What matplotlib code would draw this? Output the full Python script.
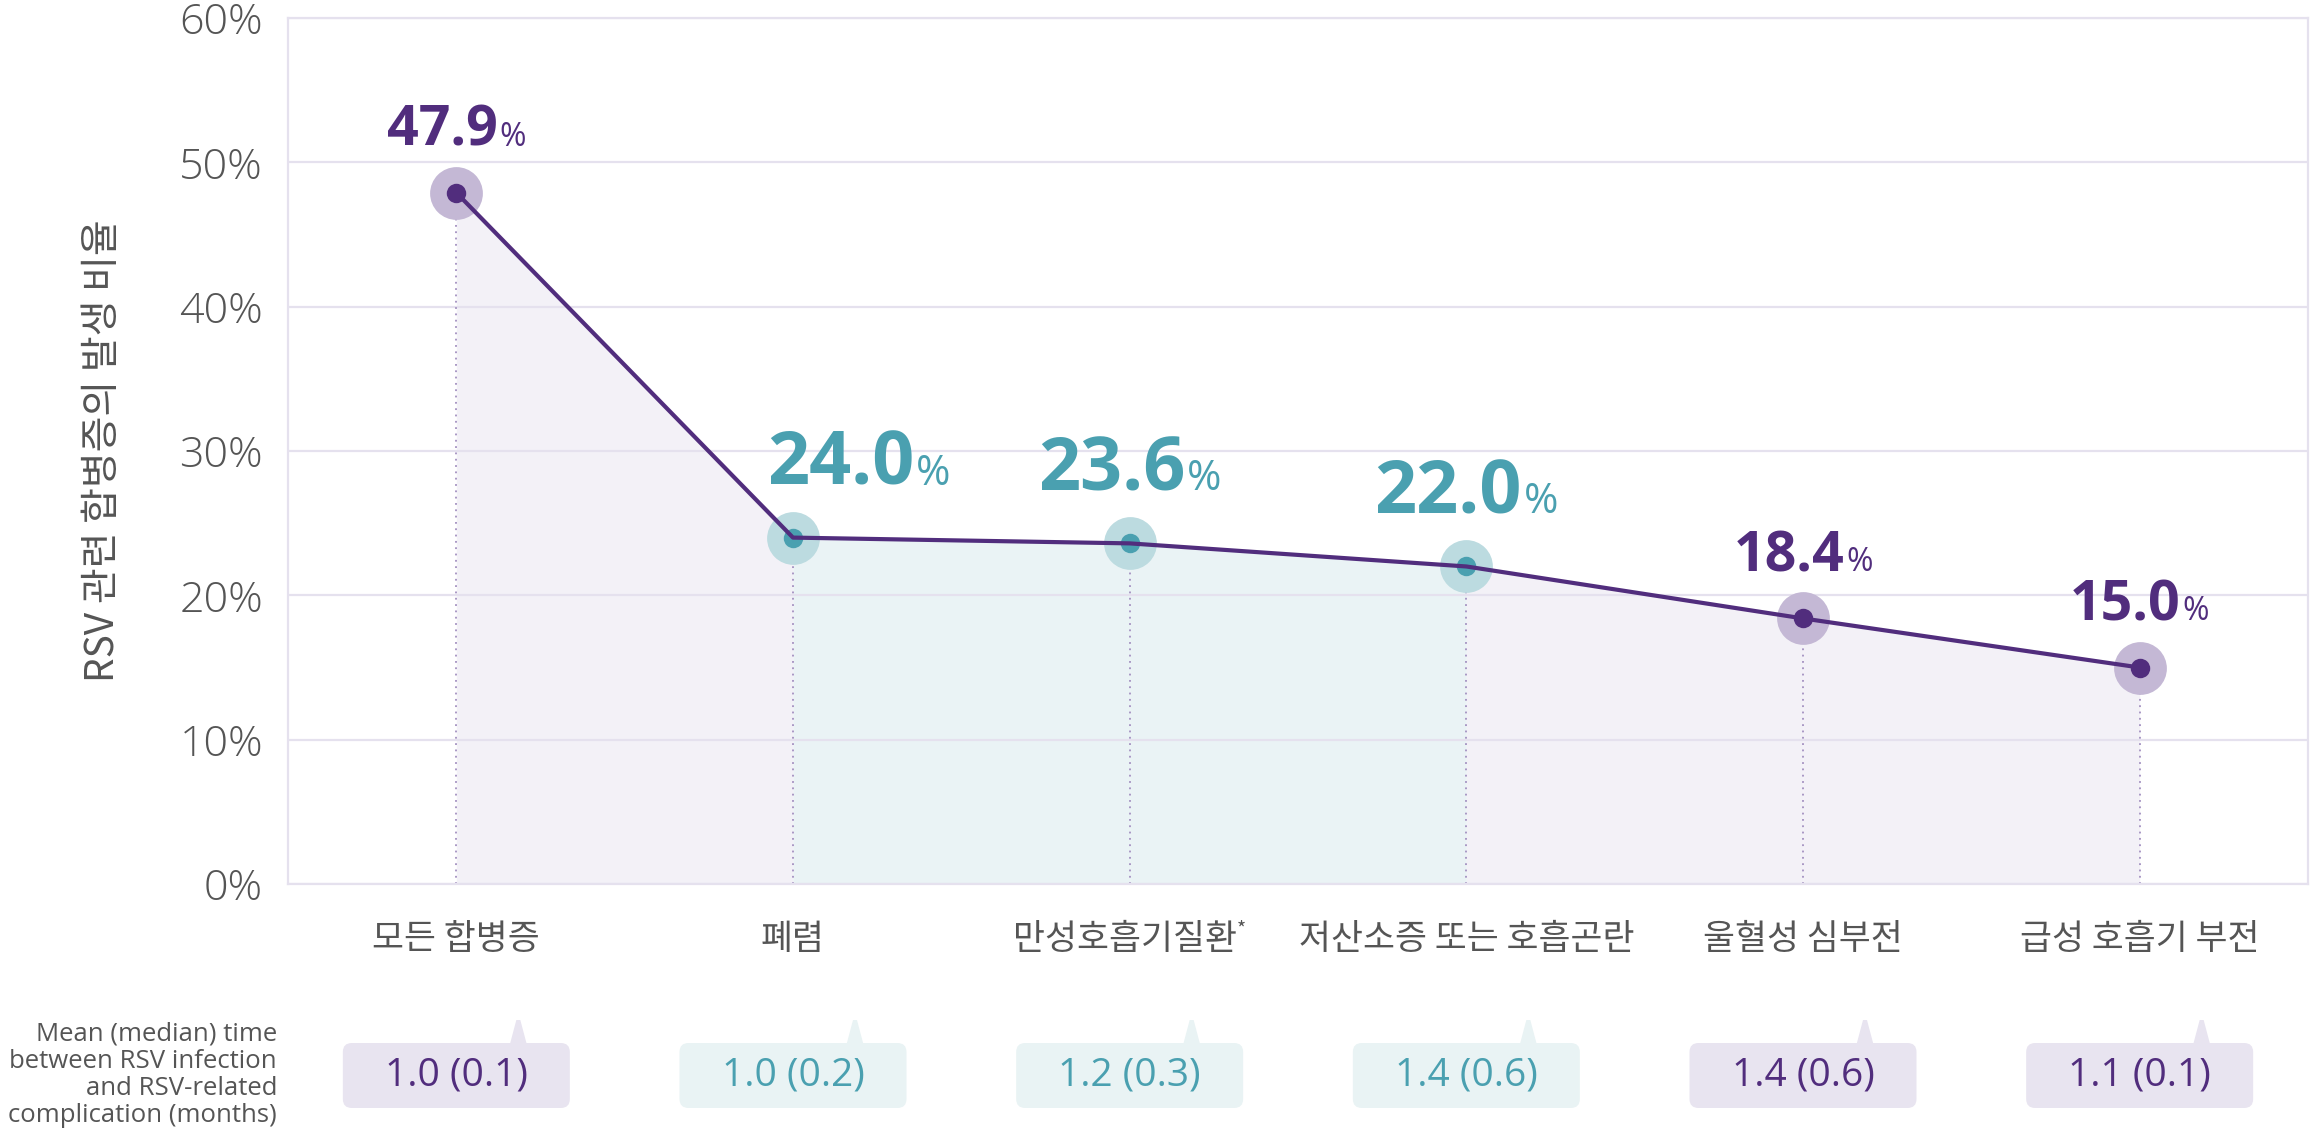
import matplotlib
matplotlib.use('Agg')
import matplotlib.pyplot as plt
from matplotlib.patches import FancyBboxPatch, Polygon
from matplotlib.transforms import offset_copy

plt.rcParams['font.family'] = ['Open Sans', 'Noto Sans CJK KR', 'DejaVu Sans']

# data
categories = ['모든 합병증', '폐렴', '만성호흡기질환*', '저산소증 또는 호흡곤란', '울혈성 심부전', '급성 호흡기 부전']
rates = [47.9, 24.0, 23.6, 22.0, 18.4, 15.0]
time_labels = ['1.0 (0.1)', '1.0 (0.2)', '1.2 (0.3)', '1.4 (0.6)', '1.4 (0.6)', '1.1 (0.1)']
highlight = [False, True, True, True, False, False]
y_ticks = [0, 10, 20, 30, 40, 50, 60]
y_label = 'RSV 관련 합병증의 발생 비율'
time_note = 'Mean (median) time\nbetween RSV infection\nand RSV-related\ncomplication (months)'

# colours
purple = '#512d7d'
teal = '#4aa0b0'
purple_fill = '#f3f1f7'
teal_fill = '#eaf3f5'
purple_halo = '#c4b8d5'
teal_halo = '#bcdbe0'
purple_box = '#e8e4f0'
teal_box = '#e9f3f4'
grid_col = '#e5e1ee'
gray = '#555555'
kr = ['Noto Sans CJK KR', 'DejaVu Sans']

W, H = 2313, 1137
fig = plt.figure(figsize=(W / 100, H / 100), dpi=100)
left_px, right_px, top_px, bot_px = 288, 2308, 18, 884
ax = fig.add_axes([left_px / W, 1 - bot_px / H, (right_px - left_px) / W, (bot_px - top_px) / H])

x = list(range(len(rates)))
ax.set_xlim(-0.5, len(rates) - 0.5)
ax.set_ylim(0, 60)

# area fills, teal where both ends are highlighted
for i in range(len(rates) - 1):
    col = teal_fill if (highlight[i] and highlight[i + 1]) else purple_fill
    ax.fill_between(x[i:i + 2], rates[i:i + 2], 0, color=col, lw=0, zorder=0.3)

ax.vlines(x, 0, rates, colors='#a390c0', linestyles=(0, (1, 2.5)), lw=1.3, zorder=1)

for i, v in enumerate(rates):
    halo = teal_halo if highlight[i] else purple_halo
    dot = teal if highlight[i] else purple
    ax.plot(i, v, 'o', ms=38, color=halo, mec='none', zorder=2)
    ax.plot(i, v, 'o', ms=14, color=dot, mec='none', zorder=3)
ax.plot(x, rates, color=purple, lw=3, zorder=4, solid_joinstyle='round')

ax.set_yticks(y_ticks)
ax.set_yticklabels([f'{t}%' for t in y_ticks])
ax.set_xticks([])
ax.tick_params(axis='y', length=0, pad=18, labelsize=31, labelcolor=gray)
for lab in ax.get_yticklabels():
    lab.set_fontweight('light')
ax.grid(axis='y', color=grid_col, lw=1.6)
ax.set_axisbelow(True)
for s in ax.spines.values():
    s.set_color(grid_col)
    s.set_linewidth(1.6)

ax.set_ylabel(y_label, family=kr, fontsize=28, color=gray, va='center')
ax.yaxis.set_label_coords(-0.0915, 0.5)

fig.text(277 / W, 1 - 1075 / H, time_note, ha='right', va='center', fontsize=18.5,
         color=gray, linespacing=1.12)

# value labels: big number + small %
num_texts = []
for i, v in enumerate(rates):
    col = teal if highlight[i] else purple
    big = 53 if highlight[i] else 40
    small = 30 if highlight[i] else 23
    tn = ax.text(i, v, f'{v:.1f}', fontsize=big, fontweight='bold', color=col,
                 ha='left', va='baseline', zorder=5)
    tp = ax.text(i, v, '%', fontsize=small, color=col, ha='left', va='baseline', zorder=5)
    num_texts.append((tn, tp))

# category labels
cat_texts = []
for i, c in enumerate(categories):
    star = c.endswith('*')
    main = c.rstrip('*')
    tm = ax.text(i, 0, main, family=kr, fontsize=25, color=gray, ha='left', va='center')
    ts = ax.text(i, 0, '*', family=kr, fontsize=14, color=gray, ha='left', va='center') if star else None
    cat_texts.append((tm, ts))

fig.canvas.draw()
r = fig.canvas.get_renderer()
for i, (tn, tp) in enumerate(num_texts):
    wn = tn.get_window_extent(r).width
    wp = tp.get_window_extent(r).width
    total = wn + wp + 2
    gap = 53 if highlight[i] else 47
    nudge = 66 if i == 1 else 0
    tn.set_transform(offset_copy(ax.transData, fig=fig, x=-total / 2 + nudge, y=gap, units='dots'))
    tp.set_transform(offset_copy(ax.transData, fig=fig, x=-total / 2 + nudge + wn + 2, y=gap, units='dots'))

for i, (tm, ts) in enumerate(cat_texts):
    wm = tm.get_window_extent(r).width
    ws = ts.get_window_extent(r).width if ts is not None else 0
    total = wm + ws
    tm.set_transform(offset_copy(ax.transData, fig=fig, x=-total / 2, y=-56, units='dots'))
    if ts is not None:
        ts.set_transform(offset_copy(ax.transData, fig=fig, x=-total / 2 + wm, y=-46, units='dots'))

# bottom row of time boxes
px_unit = (right_px - left_px) / len(rates)
bax_h = 140
bax = fig.add_axes([left_px / W, 0, (right_px - left_px) / W, bax_h / H])
bax.set_xlim(-0.5, len(rates) - 0.5)
bax.set_ylim(0, bax_h / px_unit)
bax.axis('off')
box_w = 227 / px_unit
box_b = (H - 1108) / px_unit
box_t = (H - 1043) / px_unit
tip = (H - 1020) / px_unit
p_off = 62 / px_unit
p_half = 9 / px_unit
for i, lab in enumerate(time_labels):
    fc = teal_box if highlight[i] else purple_box
    tc = teal if highlight[i] else purple
    bax.add_patch(FancyBboxPatch((i - box_w / 2, box_b), box_w, box_t - box_b,
                                 boxstyle=f'round,pad=0,rounding_size={9 / px_unit}',
                                 fc=fc, ec='none'))
    bax.add_patch(Polygon([(i + p_off - p_half, box_t - 0.01), (i + p_off - 2 / px_unit, tip),
                           (i + p_off + 2 / px_unit, tip), (i + p_off + p_half, box_t - 0.01)],
                          closed=True, fc=fc, ec='none'))
    bax.text(i, (box_b + box_t) / 2, lab, ha='center', va='center', fontsize=28, color=tc)

fig.savefig('out.png', dpi=100)
